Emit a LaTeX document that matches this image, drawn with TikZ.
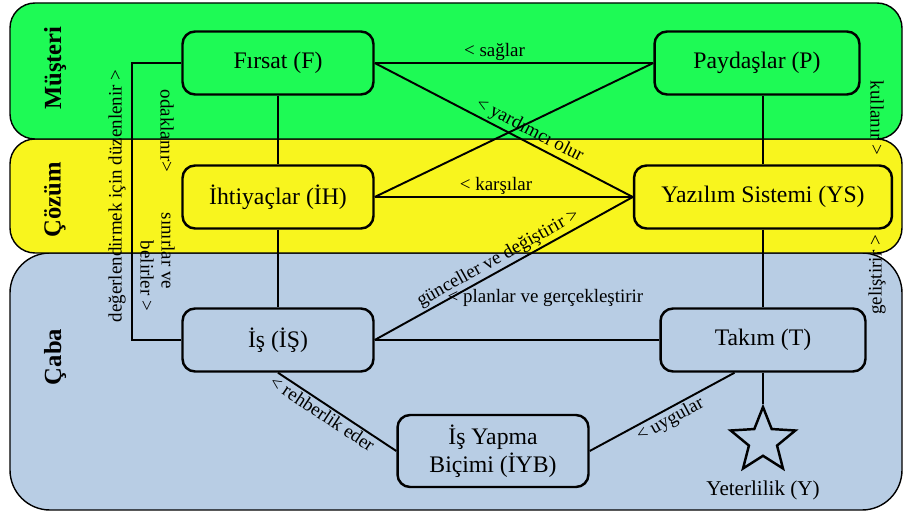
\documentclass[tikz,border=0pt]{standalone}
\usepackage{fontspec}
\setmainfont{Liberation Serif}
\usepackage{tikz}
\usetikzlibrary{shapes.geometric}
\definecolor{musteri}{RGB}{30,250,85}
\definecolor{cozum}{RGB}{248,245,30}
\definecolor{caba}{RGB}{184,205,228}

\begin{document}
\begin{tikzpicture}[x=0.02cm, y=-0.02cm,
    alan/.style={draw, line width=.8pt},
    kutu/.style={draw, rounded corners=.25cm, line width=1.4pt, minimum width=3.82cm, minimum height=1.26cm,
      font=\fontsize{13.5}{16}\selectfont, align=center},
    bag/.style={line width=1.1pt},
    etiket/.style={font=\fontsize{10.8}{12}\selectfont, inner sep=1pt},
    baslik/.style={rotate=90, font=\fontsize{14}{16}\selectfont\bfseries}]
    \useasboundingbox (0,0) rectangle (904,513);
    \draw[alan, fill=caba, rounded corners=.8cm] (10,253) rectangle (902,510);
    \draw[alan, fill=cozum, rounded corners=.5cm] (10,139) rectangle (902,253);
    \draw[alan, fill=musteri, rounded corners=.5cm] (10,3) rectangle (902,139);
    \node[baslik] (musteri) at (55,68) {Müşteri};
    \node[baslik] (cozum) at (55,200) {Çözüm};
    \node[baslik] (caba) at (55,357) {Çaba};

    \node[kutu] (f) at (278,63) {Fırsat (F)};
    \node[kutu, minimum width=4.1cm] (p) at (757,63) {Paydaşlar (P)};
    \node[kutu] (ih) at (278,197) {İhtiyaçlar (İH)};
    \node[kutu, minimum width=5.16cm] (ys) at (763,197) {Yazılım Sistemi (YS)};
    \node[kutu] (is) at (278,340) {İş (İŞ)};
    \node[kutu, minimum width=4.1cm] (t) at (763,340) {Takım (T)};
    \node[kutu, minimum height=1.44cm] (iyb) at (493,451) {İş Yapma\\Biçimi (İYB)};
    \node[draw, star, star points=5, star point ratio=2.3, minimum size=1.36cm, line width=1.4pt] (y) at (763,441) {};
    \node[font=\fontsize{12}{14}\selectfont] (yl) at (763,490) {Yeterlilik (Y)};

    \draw[bag] (f) -- (ih);
    \draw[bag] (ih) -- (is);
    \draw[bag] (ys.north) -- (ys.north |- p.south);
    \draw[bag] (ys) -- (t);
    \draw[bag] (t.south) -- (y.north);
    \draw[bag] (f.east) -- node[etiket, above, pos=.43] (saglar) {< sağlar} (p.west);
    \draw[bag] (f.east) -- node[etiket, sloped, above, pos=.58] (yardimci) {< yardımcı olur} (ys.west);
    \draw[bag] (ih.east) -- (p.west);
    \draw[bag] (ih.east) -- node[etiket, above, pos=.47] (karsilar) {< karşılar} (ys.west);
    \draw[bag] (is.east) -- node[etiket, sloped, above, pos=.5] (gunceller) {günceller ve değiştirir >} (ys.west);
    \draw[bag] (is.east) -- node[etiket, above=.62cm, pos=.6] (planlar) {< planlar ve gerçekleştirir} (t.west);
    \draw[bag] (is.south) -- node[etiket, sloped, below, pos=.42] (rehberlik) {< rehberlik eder} (iyb.west);
    \draw[bag] (iyb.east) -- node[etiket, sloped, below, pos=.52] (uygular) {< uygular} (t.229);
    % \draw[bag] (f.west) -- (is.west);
    \draw[bag] (f.west) -- ++(-49,0) |- (is.west);

    \node[etiket, rotate=90] (degerlendirmek) at (117,196) {değerlendirmek için düzenlenir >};
    \node[etiket, rotate=-90] (odaklanir) at (167,131) {odaklanır>};
    \node[etiket, rotate=-90] (sinirlar) at (168,251) {sınırlar ve};
    \node[etiket, rotate=-90] (belirler) at (147,276) {belirler >};
    \node[etiket, rotate=-90] (kullanir) at (877,118) {kullanır >};
    \node[etiket, rotate=90] (gelistirir) at (877,275) {geliştirir >};
\end{tikzpicture}
\end{document}
